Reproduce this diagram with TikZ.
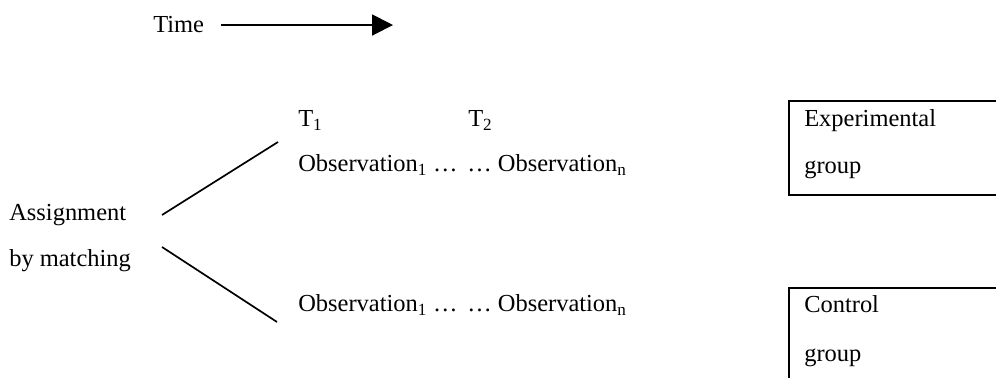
\documentclass[tikz,border=0pt]{standalone}
\usepackage{fontspec}
\setmainfont{Liberation Serif}
\usetikzlibrary{arrows.meta}

\begin{document}
\begin{tikzpicture}[>={Triangle[length=5.2mm, width=5.2mm]}, every node/.style={font=\fontsize{17.4}{20}\selectfont, inner sep=0pt, anchor=base west}]
  \useasboundingbox (0,0) rectangle (24.9,-9.45);
  \clip (0,0) rectangle (24.9,-9.45);
  % time axis
  \node (time) at (3.825,-0.825) {Time};
  \coordinate (timeend) at (9.825,-0.625);
  \draw[->, line width=1.4pt, shorten <=4.2mm] (time.east) -- (time.east -| timeend);
  % observation times
  \node (t1) at (7.45,-3.175) {T\textsubscript{1}};
  \node (t2) at (11.7,-3.175) {T\textsubscript{2}};
  \node (obsA1) at (7.45,-4.3) {Observation\textsubscript{1} \ldots};
  \node (obsA2) at (11.675,-4.3) {\ldots\ Observation\textsubscript{n}};
  \node (obsB1) at (7.45,-7.8) {Observation\textsubscript{1} \ldots};
  \node (obsB2) at (11.675,-7.8) {\ldots\ Observation\textsubscript{n}};
  % assignment fork
  \node (assign) at (0.225,-5.525) {Assignment};
  \node (bymatch) at (0.225,-6.675) {by matching};
  \coordinate (forkup) at (4.05,-5.375);
  \coordinate (forkdown) at (4.05,-6.175);
  \coordinate (expend) at (6.95,-3.55);
  \coordinate (ctrlend) at (6.925,-8.05);
  \draw[line width=1.2pt] (forkup) -- (expend);
  \draw[line width=1.2pt] (forkdown) -- (ctrlend);
  % groups
  \draw[line width=0.9pt] (19.725,-2.525) rectangle (25.5,-4.875);
  \draw[line width=0.9pt] (19.725,-7.2) rectangle (25.5,-10);
  \node (exptext) at (20.1,-3.175) {Experimental};
  \node (expgroup) at (20.1,-4.35) {group};
  \node (ctrltext) at (20.1,-7.825) {Control};
  \node (ctrlgroup) at (20.1,-9.05) {group};
\end{tikzpicture}
\end{document}
